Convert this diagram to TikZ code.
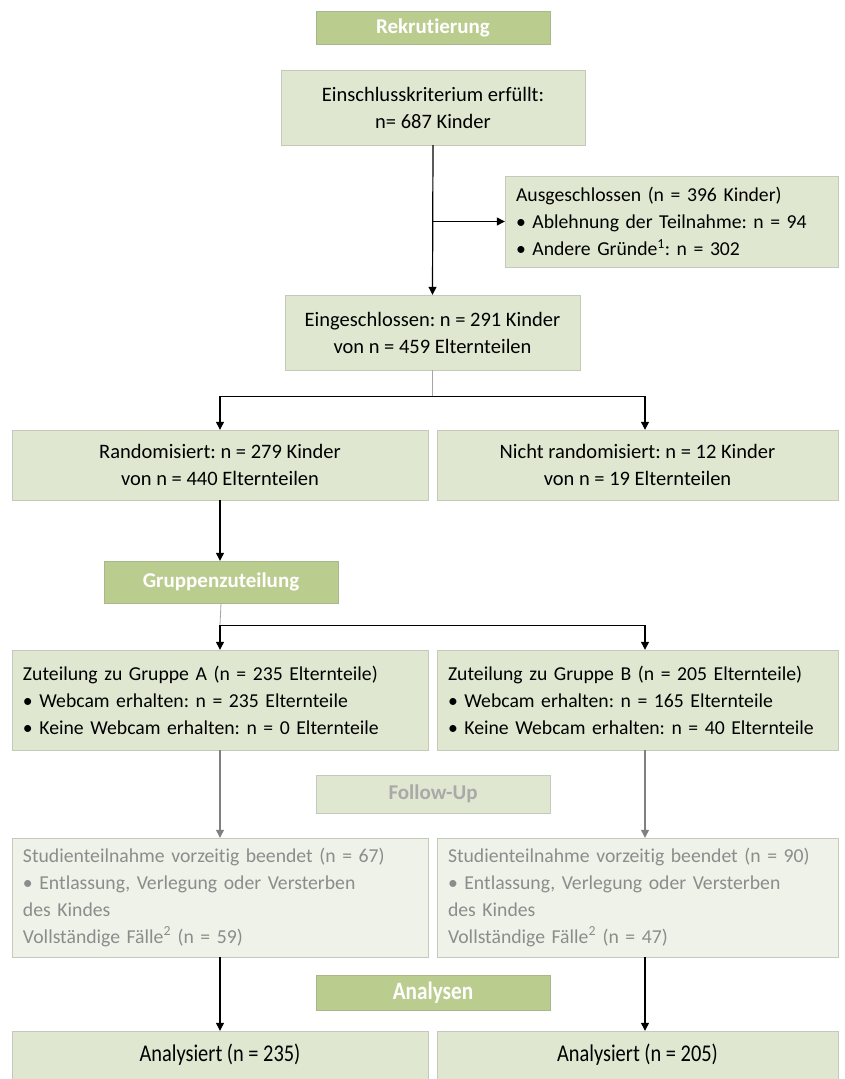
\documentclass[tikz,border=0pt]{standalone}
\usepackage{fontspec}
\setmainfont{Carlito}[Ligatures={NoCommon}]
\newfontfamily\narrowfont[FakeStretch=0.85,Ligatures={NoCommon}]{Carlito}
\usetikzlibrary{arrows.meta,calc}
\definecolor{barfill}{HTML}{BBCC8F}
\definecolor{barline}{HTML}{A9B88C}
\definecolor{boxfill}{HTML}{DFE7D0}
\definecolor{boxline}{HTML}{C4C9BC}
\definecolor{fufill}{HTML}{EEF2E8}
\definecolor{futext}{HTML}{8C8C8C}
\frenchspacing
\hyphenpenalty=10000
\tikzset{
  bar/.style={draw=barline,fill=barfill,text=white,font=\fontsize{21}{24}\selectfont\bfseries,inner sep=0pt},
  box/.style={draw=boxline,fill=boxfill,font=\fontsize{20.5}{27}\selectfont,inner sep=0pt,align=center},
  lbox/.style={box,align=left,inner xsep=11pt,font=\fontsize{19.7}{27}\selectfont},
  fubox/.style={lbox,fill=fufill,text=futext},
  arr/.style={line width=1.2pt,-{Triangle[length=8pt,width=8pt]}},
  stem/.style={draw=gray!70,line width=0.8pt},
  grayarr/.style={arr,draw=gray,color=gray},
  resbox/.style={box,font=\narrowfont\fontsize{24}{26}\selectfont}
}
\begin{document}
\begin{tikzpicture}[x=1pt,y=-1pt]
\useasboundingbox[fill=white] (0,0) rectangle (844,1079);

\node[bar,minimum width=234pt,minimum height=33pt] (rekr) at (433,27.5) {Rekrutierung};
\node[box,minimum width=304pt,minimum height=75pt] (krit) at (433,107.5) {Einschlusskriterium erfüllt:\\n= 687 Kinder};
\node[lbox,text width=311pt,minimum height=91pt] (aus) at (671.5,221.5) {Ausgeschlossen (n = 396 Kinder)\\• Ablehnung der Teilnahme: n = 94\\• Andere Gründe\textsuperscript{1}: n = 302};
\node[box,minimum width=295pt,minimum height=75pt] (ein) at (432.5,332.5) {Eingeschlossen: n = 291 Kinder\\von n = 459 Elternteilen};

\node[box,minimum width=416pt,minimum height=70pt] (rand) at (220,465) {Randomisiert: n = 279 Kinder\\von n = 440 Elternteilen};
\node[box,minimum width=401pt,minimum height=70pt] (nicht) at (637.5,465) {Nicht randomisiert: n = 12 Kinder\\von n = 19 Elternteilen};

\node[bar,minimum width=234pt,minimum height=42pt] (grp) at (221,582) {Gruppenzuteilung};

\node[lbox,text width=394pt,minimum height=100pt] (gra) at (220,700) {Zuteilung zu Gruppe A (n = 235 Elternteile)\\• Webcam erhalten: n = 235 Elternteile\\• Keine Webcam erhalten: n = 0 Elternteile};
\node[lbox,text width=379pt,minimum height=100pt] (grb) at (637.5,700) {Zuteilung zu Gruppe B (n = 205 Elternteile)\\• Webcam erhalten: n = 165 Elternteile\\• Keine Webcam erhalten: n = 40 Elternteile};

\node[bar,fill=boxfill,draw=boxline,text=futext!75,minimum width=234pt,minimum height=38pt] (fu) at (433,794) {Follow-Up};

\node[fubox,text width=394pt,minimum height=119pt] (fua) at (220,897.5) {Studienteilnahme vorzeitig beendet (n = 67)\\• Entlassung, Verlegung oder Versterben\\des Kindes\\Vollständige Fälle\textsuperscript{2} (n = 59)};
\node[fubox,text width=379pt,minimum height=119pt] (fub) at (637.5,897.5) {Studienteilnahme vorzeitig beendet (n = 90)\\• Entlassung, Verlegung oder Versterben\\des Kindes\\Vollständige Fälle\textsuperscript{2} (n = 47)};

\node[bar,minimum width=234pt,minimum height=35pt,font=\narrowfont\fontsize{25}{27}\selectfont\bfseries] (ana) at (433,992.5) {Analysen};

\node[resbox,minimum width=416pt,minimum height=48pt] (resa) at (220,1055) {Analysiert (n = 235)};
\node[resbox,minimum width=401pt,minimum height=48pt] (resb) at (637.5,1055) {Analysiert (n = 205)};

\coordinate (ra) at ([xshift=7.5pt]nicht.north);
\coordinate (rb) at ([xshift=7.5pt]grb.north);
\coordinate (fb) at ([xshift=7.5pt]fub.north);
\coordinate (sb) at ([xshift=7.5pt]fub.south);
\coordinate (ab) at ([xshift=7.5pt]resb.north);

\draw[arr] (krit.south) -- (ein.north);
\draw[arr] (krit.south |- aus.west) -- (aus.west);

\coordinate (s1) at ($(ein.south)+(0,26)$);
\draw[stem] (ein.south) -- (s1);
\draw[line width=1.2pt] (rand.north |- s1) -- (ra |- s1);
\draw[arr] (rand.north |- s1) -- (rand.north);
\draw[arr] (ra |- s1) -- (ra);

\draw[arr] (rand.south) -- (rand.south |- grp.north);

\coordinate (s2) at ($(grp.south)+(0,22)$);
\draw[stem] (grp.south) -- (gra.north |- s2);
\draw[line width=1.2pt] (gra.north |- s2) -- (rb |- s2);
\draw[arr] (gra.north |- s2) -- (gra.north);
\draw[arr] (rb |- s2) -- (rb);

\draw[grayarr] (gra.south) -- (fua.north);
\draw[grayarr] (rb |- grb.south) -- (fb);

\draw[arr] (fua.south) -- (resa.north);
\draw[arr] (sb) -- (ab);
\end{tikzpicture}
\end{document}
